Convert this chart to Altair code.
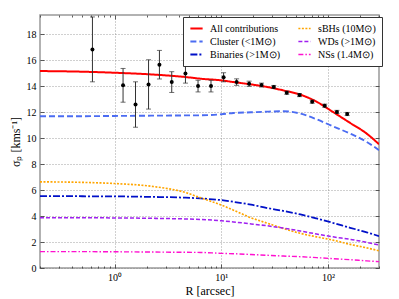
import altair as alt
import pandas as pd

# ---------------- data ----------------
series_names = ["All contributions", "Cluster (<1M\u2299)", "Binaries (>1M\u2299)",
                "sBHs (10M\u2299)", "WDs (>1M\u2299)", "NSs (1.4M\u2299)"]
series_colors = ["#ff0000", "#4b6cf2", "#0010c8", "#ffa500", "#a020f0", "#ff10d0"]
series_dash = [[1, 0], [6, 3], [7, 2, 2, 2], [2, 1.5], [4, 2], [5, 2, 1.5, 2]]
series_width = [2, 1.4, 1.4, 1.4, 1.4, 1.4]

R_curve = [0.2, 0.5, 1, 2.2, 4.6, 6.4, 10, 13, 19, 27, 38, 55, 78, 111, 161, 230, 300]
all_contrib = [15.18, 15.13, 15.05, 14.92, 14.72, 14.59, 14.46, 14.33, 14.15, 13.95,
               13.69, 13.36, 12.82, 12.03, 11.18, 10.36, 9.54]
cluster = [11.7, 11.7, 11.72, 11.74, 11.76, 11.77, 11.85, 11.95, 12.0, 12.05,
           12.08, 11.9, 11.46, 10.92, 10.36, 9.72, 9.08]
binaries = [5.54, 5.53, 5.52, 5.48, 5.42, 5.36, 5.23, 5.1, 4.88, 4.62,
            4.4, 4.13, 3.82, 3.48, 3.1, 2.75, 2.46]
sbhs = [6.64, 6.6, 6.51, 6.3, 5.82, 5.41, 4.85, 4.46, 3.87, 3.45,
        3.05, 2.67, 2.4, 2.15, 1.82, 1.55, 1.33]
wds = [3.87, 3.87, 3.86, 3.83, 3.78, 3.74, 3.64, 3.55, 3.4, 3.25,
       3.08, 2.85, 2.62, 2.4, 2.21, 1.98, 1.77]
nss = [1.26, 1.26, 1.25, 1.23, 1.21, 1.2, 1.13, 1.1, 1.04, 0.98,
       0.92, 0.87, 0.8, 0.72, 0.64, 0.55, 0.49]

R_obs = [0.62, 1.2, 1.57, 2.08, 2.63, 3.43, 4.61, 6.05, 8.0, 10.5,
         13.9, 18.2, 23.8, 31, 41, 54, 71, 93, 121, 151]
sigma_obs = [16.85, 14.08, 12.6, 14.15, 15.67, 14.33, 15.0, 14.02, 14.02, 14.7,
             14.33, 14.2, 14.1, 13.95, 13.51, 13.33, 12.82, 12.51, 12.03, 11.87]
sigma_err = [2.5, 1.3, 1.75, 1.9, 1.1, 0.8, 0.75, 0.45, 0.45, 0.35,
             0.25, 0.2, 0.15, 0.12, 0.12, 0.12, 0.12, 0.12, 0.12, 0.12]

x_major = [1, 10, 100]
x_minor = [0.2, 0.3, 0.4, 0.5, 0.6, 0.7, 0.8, 0.9, 2, 3, 4, 5, 6, 7, 8, 9,
           20, 30, 40, 50, 60, 70, 80, 90, 200, 300]
y_ticks = [0, 2, 4, 6, 8, 10, 12, 14, 16, 18]

# ---------------- tables ----------------
curve_map = {
    series_names[0]: all_contrib,
    series_names[1]: cluster,
    series_names[2]: binaries,
    series_names[3]: sbhs,
    series_names[4]: wds,
    series_names[5]: nss,
}
rows = []
for name, vals in curve_map.items():
    for r, v in zip(R_curve, vals):
        rows.append({"series": name, "R": r, "v": v})
df_c = pd.DataFrame(rows)

df_o = pd.DataFrame({
    "R": R_obs,
    "s": sigma_obs,
    "lo": [s - e for s, e in zip(sigma_obs, sigma_err)],
    "hi": [s + e for s, e in zip(sigma_obs, sigma_err)],
})

FONT = "Liberation Serif"
xscale = alt.Scale(type="log", domain=[0.2, 300], nice=False)
yscale = alt.Scale(domain=[0, 19.5], nice=False, zero=False)


def tick_axis(orient, values, size):
    return alt.Axis(orient=orient, values=values, tickSize=size, offset=-size,
                    labels=False, domain=False, grid=False, title=None,
                    tickColor="#333", tickWidth=0.8)


legend = alt.Legend(title=None, orient="none", legendX=143, legendY=2, columns=2,
                    symbolType="stroke", symbolSize=150, labelFont=FONT,
                    labelFontSize=10, labelColor="#000", padding=6,
                    strokeColor="#333", fillColor="white", columnPadding=16,
                    rowPadding=2, labelOffset=6, clipHeight=11,
                    symbolStrokeWidth=1.5)

curves = alt.Chart(df_c).mark_line(interpolate="monotone", clip=True).encode(
    x=alt.X("R:Q", scale=xscale,
            axis=alt.Axis(orient="bottom", values=x_major, title="R [arcsec]",
                          labelExpr="datum.value == 1 ? '10\u2070' : datum.value == 10 ? '10\u00b9' : '10\u00b2'",
                          tickSize=0, domain=False, grid=True, gridDash=[1, 2],
                          gridColor="#888", gridWidth=0.8, labelPadding=4,
                          labelFont=FONT, labelFontSize=10, labelColor="#000",
                          titleFont=FONT, titleFontSize=12, titleFontWeight="normal",
                          titleColor="#000", titlePadding=3)),
    y=alt.Y("v:Q", scale=yscale,
            axis=alt.Axis(orient="left", values=y_ticks, title="\u03c3\u209a [kms\u207b\u00b9]",
                          tickSize=0, domain=False, grid=True, gridDash=[1, 2],
                          gridColor="#888", gridWidth=0.8, labelPadding=4,
                          labelFont=FONT, labelFontSize=10, labelColor="#000",
                          titleFont=FONT, titleFontSize=12, titleFontWeight="normal",
                          titleColor="#000", titlePadding=4)),
    color=alt.Color("series:N", scale=alt.Scale(domain=series_names, range=series_colors),
                    legend=legend),
    strokeDash=alt.StrokeDash("series:N", scale=alt.Scale(domain=series_names, range=series_dash),
                              legend=legend),
    strokeWidth=alt.StrokeWidth("series:N", scale=alt.Scale(domain=series_names, range=series_width),
                                legend=legend),
)

bars = alt.Chart(df_o).mark_rule(color="#333", strokeWidth=1, clip=True).encode(
    x=alt.X("R:Q", scale=xscale, axis=tick_axis("bottom", x_major, 4)),
    y=alt.Y("lo:Q", scale=yscale, axis=tick_axis("left", y_ticks, 4)),
    y2="hi:Q",
)

caps_top = alt.Chart(df_o).mark_tick(color="#333", orient="horizontal", size=5,
                                     thickness=1, clip=True).encode(
    x=alt.X("R:Q", scale=xscale, axis=tick_axis("top", x_major, 4)),
    y=alt.Y("hi:Q", scale=yscale, axis=tick_axis("right", y_ticks, 4)),
)

caps_bot = alt.Chart(df_o).mark_tick(color="#333", orient="horizontal", size=5,
                                     thickness=1, clip=True).encode(
    x=alt.X("R:Q", scale=xscale, axis=tick_axis("bottom", x_minor, 2)),
    y=alt.Y("lo:Q", scale=yscale, axis=None),
)

points = alt.Chart(df_o).mark_circle(color="#000", size=16, opacity=1).encode(
    x=alt.X("R:Q", scale=xscale, axis=tick_axis("top", x_minor, 2)),
    y=alt.Y("s:Q", scale=yscale, axis=None),
)

chart = alt.layer(curves, bars, caps_top, caps_bot, points).resolve_axis(
    x="independent", y="independent"
).properties(
    width=339, height=253,
    padding={"left": 32, "top": 7, "right": 12, "bottom": 30},
    autosize=alt.AutoSizeParams(type="none"),
    background="white",
).configure_view(stroke="#999", strokeWidth=1.5)

chart.save("out.html", embed_options={"renderer": "svg", "actions": False})
